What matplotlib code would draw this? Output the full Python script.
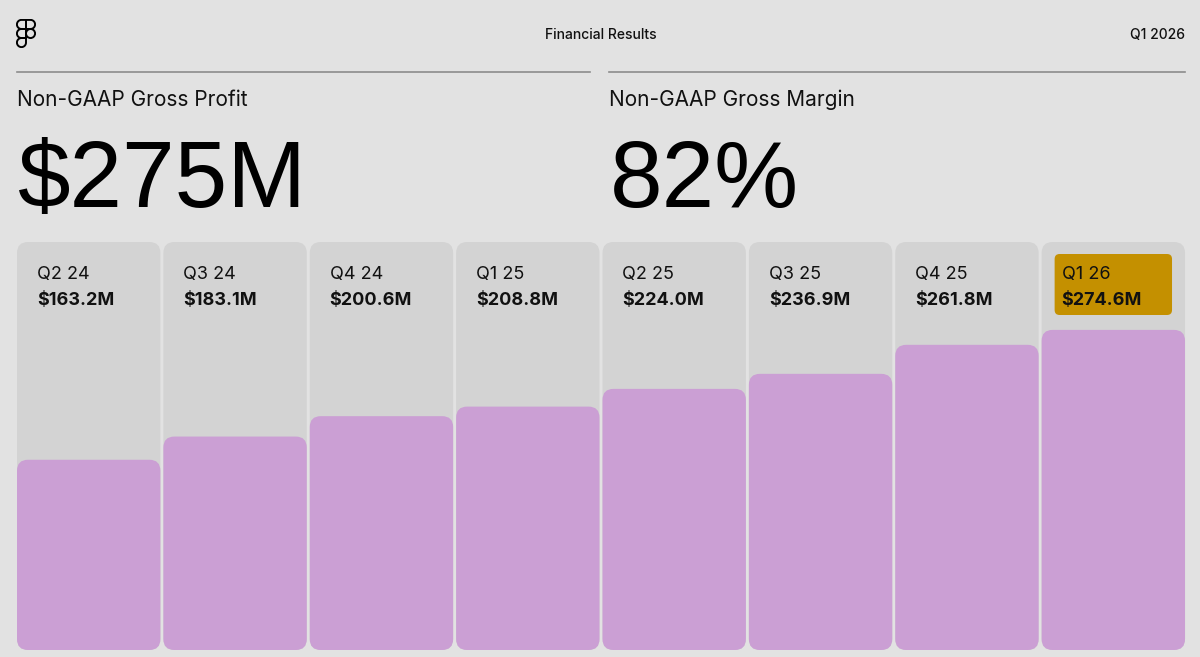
import numpy as np
import matplotlib
matplotlib.use("Agg")
import matplotlib.pyplot as plt
from matplotlib.patches import FancyBboxPatch, PathPatch, Circle
from matplotlib.path import Path
from matplotlib.lines import Line2D
import matplotlib.transforms as mtransforms

# ---------------- data ----------------
quarters = ["Q2 24", "Q3 24", "Q4 24", "Q1 25", "Q2 25", "Q3 25", "Q4 25", "Q1 26"]
gross_profit = [163.2, 183.1, 200.6, 208.8, 224.0, 236.9, 261.8, 274.6]
value_labels = ["$163.2M", "$183.1M", "$200.6M", "$208.8M",
                "$224.0M", "$236.9M", "$261.8M", "$274.6M"]
highlight_quarter = "Q1 26"
title_center = "Financial Results"
title_right = "Q1 2026"
kpi_titles = ["Non-GAAP Gross Profit", "Non-GAAP Gross Margin"]
kpi_values = ["$275M", "82%"]

# ---------------- style ----------------
BG = "#e2e2e2"
PANEL = "#d3d3d3"
BAR = "#cb9fd4"
GOLD = "#c49000"
RULE = "#8c8c8c"
INK = "#111111"
FONT = ["Inter", "DejaVu Sans"]
BIG_FONT = ["Liberation Sans", "DejaVu Sans"]
plt.rcParams["font.family"] = FONT

W, H = 1200, 657
fig = plt.figure(figsize=(12, 6.57), dpi=100)
fig.patch.set_facecolor(BG)


def fx(px):
    return px / W


def fy(py):
    return 1 - py / H


# ---------------- header ----------------
fig.text(fx(601), fy(39), title_center, ha="center", va="baseline",
         fontsize=10, color=INK, fontweight="medium")
fig.text(fx(1185), fy(39), title_right, ha="right", va="baseline",
         fontsize=10, color=INK, fontweight="medium")

fig.add_artist(Line2D([fx(17), fx(590)], [fy(72), fy(72)],
                      transform=fig.transFigure, color=RULE, lw=1.2))
fig.add_artist(Line2D([fx(609), fx(1185)], [fy(72), fy(72)],
                      transform=fig.transFigure, color=RULE, lw=1.2))

for xpx, t, v in zip([17, 609], kpi_titles, kpi_values):
    fig.text(fx(xpx), fy(106), t, ha="left", va="baseline",
             fontsize=15, color=INK)
    fig.text(fx(xpx + 1), fy(207), v, ha="left", va="baseline",
             fontsize=68, color="black", family=BIG_FONT)

# ---------------- logo ----------------
lax = fig.add_axes([fx(16), fy(48), 20 / W, 29 / H])
lax.set_xlim(-1, 21)
lax.set_ylim(-1, 31)
lax.set_aspect("equal")
lax.axis("off")


def half_pill(y0, left=True):
    # square 10x10 with one side fully rounded (radius 5)
    if left:
        th = np.linspace(np.pi / 2, 3 * np.pi / 2, 40)
        cx = 5
        pts = [(10, y0 + 10), (5, y0 + 10)] + \
              [(cx + 5 * np.cos(t), y0 + 5 + 5 * np.sin(t)) for t in th] + \
              [(5, y0), (10, y0), (10, y0 + 10)]
    else:
        th = np.linspace(np.pi / 2, -np.pi / 2, 40)
        cx = 15
        pts = [(10, y0 + 10), (15, y0 + 10)] + \
              [(cx + 5 * np.cos(t), y0 + 5 + 5 * np.sin(t)) for t in th] + \
              [(15, y0), (10, y0), (10, y0 + 10)]
    return Path(pts)


lw_logo = 1.4
for p in [half_pill(20, True), half_pill(20, False), half_pill(10, True)]:
    lax.add_patch(PathPatch(p, fill=False, lw=lw_logo, ec="black"))
lax.add_patch(Circle((15, 15), 5, fill=False, lw=lw_logo, ec="black"))
th = np.linspace(np.pi / 2, 2 * np.pi, 60)
drop = [(10, 10), (5, 10)] + [(5 + 5 * np.cos(t), 5 + 5 * np.sin(t)) for t in th] + [(10, 10)]
lax.add_patch(PathPatch(Path(drop), fill=False, lw=lw_logo, ec="black"))

# ---------------- bars ----------------
ax_left, ax_right, ax_bottom, ax_top = 17, 1188, 650, 242
ax = fig.add_axes([fx(ax_left), fy(ax_bottom), (ax_right - ax_left) / W,
                   (ax_bottom - ax_top) / H])
ax.set_facecolor(BG)
ymax = 350
n = len(quarters)
ax.set_xlim(-0.5, n - 0.5)
ax.set_ylim(0, ymax)
ax.axis("off")

px_per_x = (ax_right - ax_left) / n
px_per_y = (ax_bottom - ax_top) / ymax
aspect = (1 / px_per_y) / (1 / px_per_x)
width = 143.4 / px_per_x
x = np.arange(n)


def roundify(rects, color, radius_px, zorder):
    for r in rects:
        x0, y0 = r.get_x(), r.get_y()
        w, h = r.get_width(), r.get_height()
        r.remove()
        ax.add_patch(FancyBboxPatch(
            (x0, y0), w, h,
            boxstyle=f"round,pad=0,rounding_size={radius_px / px_per_x}",
            mutation_aspect=aspect, fc=color, ec="none", zorder=zorder))


panels = ax.bar(x - 0.5, [ymax] * n, width=width, align="edge")
roundify(panels, PANEL, 11, 1)
bars = ax.bar(x - 0.5, gross_profit, width=width, align="edge")
roundify(bars, BAR, 11, 2)

blend = mtransforms.blended_transform_factory(ax.transData, ax.transAxes)
inset = 20 / px_per_x
y_q = (ax_bottom - 279) / (ax_bottom - ax_top)
y_v = (ax_bottom - 305) / (ax_bottom - ax_top)

for i, (q, lab) in enumerate(zip(quarters, value_labels)):
    if q == highlight_quarter:
        gy0 = (ax_bottom - 315) / px_per_y
        gy1 = (ax_bottom - 254) / px_per_y
        gx0 = i - 0.5 + 13 / px_per_x
        gx1 = i - 0.5 + width - 13 / px_per_x
        ax.add_patch(FancyBboxPatch(
            (gx0, gy0), gx1 - gx0, gy1 - gy0,
            boxstyle=f"round,pad=0,rounding_size={5 / px_per_x}",
            mutation_aspect=aspect, fc=GOLD, ec="none", zorder=3))
    ax.text(i - 0.5 + inset, y_q, q, transform=blend, ha="left",
            va="baseline", fontsize=13, color=INK, zorder=4)
    ax.text(i - 0.5 + inset, y_v, lab, transform=blend, ha="left",
            va="baseline", fontsize=13, fontweight="bold", color=INK, zorder=4)

fig.savefig("out.png", dpi=100, facecolor=BG)
